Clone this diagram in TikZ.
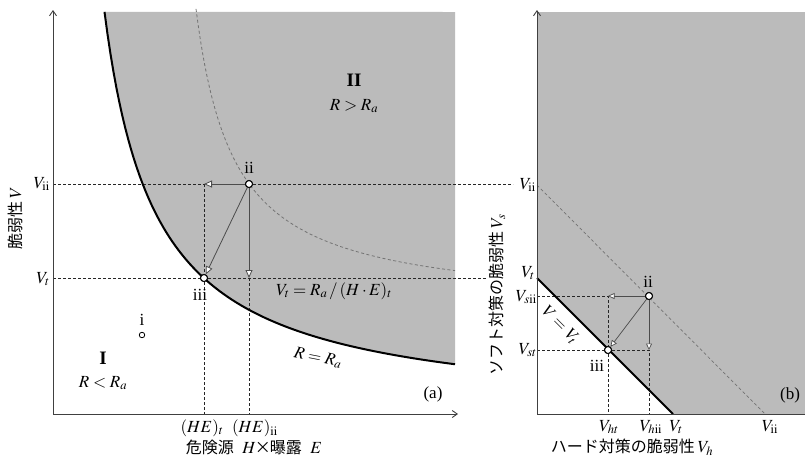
\documentclass[tikz,border=0pt]{standalone}
\usepackage{mathptmx}
\usepackage[no-math]{fontspec}
\setmainfont{Liberation Serif}
\newfontfamily\jp{Noto Sans CJK JP}
\newcommand\jpt[1]{{\fontsize{16}{18}\selectfont\jp #1}}
\usetikzlibrary{arrows.meta}
\definecolor{regiongray}{RGB}{187,187,187}
\tikzset{
  axisline/.style={draw=black!75, line width=0.9pt, -{Straight Barb[length=5pt,width=7pt]}},
  guide/.style={draw=black!85, line width=0.7pt, dash pattern=on 3pt off 2pt},
  limitline/.style={draw=black, line width=2pt},
  hintline/.style={draw=black!55, line width=0.8pt, dash pattern=on 3pt off 2.5pt},
  move/.style={draw=black!70, line width=0.8pt, -{Triangle[open,length=8pt,width=7pt,fill=white]}},
  moveb/.style={draw=black!70, line width=0.7pt, -{Triangle[open,length=6.5pt,width=6pt,fill=white]}},
  state/.style={circle, draw=black, fill=white, line width=1pt, inner sep=0pt, minimum size=7pt},
  lbl/.style={inner sep=1pt},
}
\begin{document}
\begin{tikzpicture}[x=1pt,y=-1pt,font=\fontsize{17}{19}\selectfont]
\useasboundingbox (0,0) rectangle (805,459);
% ---------------- panel (a) ----------------
\fill[regiongray] plot[domain=104.5:455,samples=120] (\x,{416-208/((\x-53)*0.01)}) -- (455,12) -- cycle;
% axes
\coordinate (aO) at (53,414);
\coordinate (aYtop) at (53,10);
\coordinate (aXend) at (458,414);
% key points
\node[state] (aii) at (249,184) {};
\node[state] (aiii) at (204,278) {};
\coordinate (aL) at (204,184);
\coordinate (aD) at (249,278);
\coordinate (aHEt) at (204,414);
\coordinate (aHEii) at (249,414);
\coordinate (aVii) at (53,184);
\coordinate (aVt) at (53,278);
\coordinate (aVtEnd) at (486,278);
% guides
\draw[guide] (aVii) -- (aL);
\draw[guide] (aii) -- (513,184);
\draw[guide] (aVt) -- (aiii) -- (aVtEnd);
\draw[guide] (aL) -- (aiii) -- (aHEt);
\draw[guide] (aD) -- (aHEii);
% curves
\draw[hintline] plot[domain=196:455,samples=120] (\x,{309-114/((\x-158)*0.01)});
\draw[limitline] plot[domain=104.5:455,samples=120] (\x,{416-208/((\x-53)*0.01)});
\draw[axisline] (aO) -- (aYtop);
\draw[axisline] (aO) -- (aXend);
% moves
\draw[move] (aii) -- (aL);
\draw[move] (aii) -- (aD);
\draw[move] (aii) -- (aiii);
\node[state] at (aii) {};
\node[state] at (aiii) {};
\node[circle,draw=black,fill=white,line width=0.8pt,inner sep=0pt,minimum size=5.5pt] (ai) at (142,335) {};
% labels
\node[lbl] (ti) at (142,320) {i};
\node[lbl] (tii) at (249,168) {ii};
\node[lbl] (tiii) at (200,295) {iii};
\node[lbl,font=\fontsize{19}{21}\selectfont] (tI) at (103,358) {\textbf{I}};
\node[lbl] (tRl) at (103,383) {$R<R_a$};
\node[lbl,font=\fontsize{19}{21}\selectfont] (tII) at (354,80) {\textbf{II}};
\node[lbl] (tRg) at (354,106) {$R>R_a$};
\node[lbl] (tVteq) at (334,291) {$V_t=R_a\,/\,(H\cdot E)_t$};
\node[lbl,rotate=-11] (tReq) at (318,358) {$R=R_a$};
\node[lbl] (ta) at (433,394) {(a)};
\node[lbl,anchor=east] (tVii) at (51,184) {$V_{\mathrm{ii}}$};
\node[lbl,anchor=east] (tVt) at (51,279) {$V_t$};
\node[lbl] (tHEt) at (202,428) {$(HE)_t$};
\node[lbl] (tHEii) at (255,428) {$(HE)_{\mathrm{ii}}$};
\node[lbl] (txa) at (254,447) {\jpt{危険源}\enspace$H$\kern-1pt\jpt{×}\kern-1pt\jpt{曝露}\enspace$E$};
\node[lbl,rotate=90] (tya) at (15,218) {\jpt{脆弱性}\,$V$};
% ---------------- panel (b) ----------------
\fill[regiongray] (537,12) -- (805,12) -- (805,414) -- (673,414) -- (537,278) -- cycle;
\coordinate (bO) at (537,414);
\coordinate (bYtop) at (537,10);
\coordinate (bXend) at (805,414);
\coordinate (bVt) at (537,278);
\coordinate (bVtx) at (673,414);
\coordinate (bVii) at (537,185);
\coordinate (bViix) at (765,414);
\node[state] (bii) at (649,296) {};
\node[state] (biii) at (608,350) {};
\coordinate (bL) at (608,296);
\coordinate (bD) at (649,350);
\coordinate (bVsii) at (537,296);
\coordinate (bVst) at (537,350);
\coordinate (bVht) at (608,414);
\coordinate (bVhii) at (649,414);
\draw[guide] (bVsii) -- (bL) -- (biii) -- (bVht);
\draw[guide] (bVst) -- (biii) -- (bD) -- (bVhii);
\draw[hintline,line width=0.7pt] (bVii) -- (bViix);
\draw[limitline] (bVt) -- (bVtx);
\draw[axisline] (bO) -- (bYtop);
\draw[draw=black!75, line width=0.9pt] (bO) -- (bXend);
\draw[moveb] (bii) -- (bL);
\draw[moveb] (bii) -- (bD);
\draw[moveb] (bii) -- (biii);
\node[state] at (bii) {};
\node[state] at (biii) {};
% labels
\node[lbl] (ubii) at (648,282) {ii};
\node[lbl] (ubiii) at (597,366) {iii};
\node[lbl,anchor=east] (uVii) at (537,185) {$V_{\mathrm{ii}}$};
\node[lbl,anchor=east] (uVt) at (536,273) {$V_t$};
\node[lbl,anchor=east] (uVsii) at (538,297) {$V_{s\mathrm{ii}}$};
\node[lbl,anchor=east] (uVst) at (538,350) {$V_{st}$};
\node[lbl] (uVht) at (609,427) {$V_{ht}$};
\node[lbl] (uVhii) at (651,427) {$V_{h\mathrm{ii}}$};
\node[lbl] (uVtx) at (676,427) {$V_t$};
\node[lbl] (uViix) at (770,427) {$V_{\mathrm{ii}}$};
\node[lbl,rotate=-45] (uVeq) at (560,325) {$V=V_t$};
\node[lbl] (ub) at (790,395) {(b)};
\node[lbl] (uxb) at (632,447) {\jpt{ハード対策の脆弱性}\,$V_h$};
\node[lbl,rotate=90] (uyb) at (497,295) {\jpt{ソフト対策の脆弱性}\,$V_s$};
\end{tikzpicture}
\end{document}
